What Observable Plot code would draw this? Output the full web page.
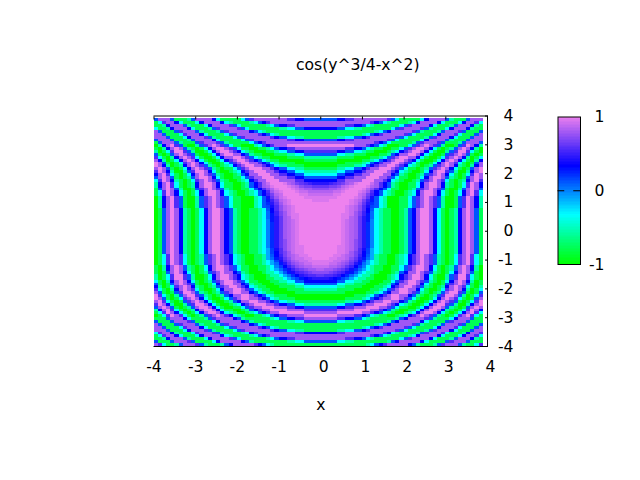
<!DOCTYPE html>
<html>
<head>
<meta charset="utf-8">
<script src="https://cdn.jsdelivr.net/npm/d3@7"></script>
<script src="https://cdn.jsdelivr.net/npm/@observablehq/plot@0.6"></script>
<style>
html,body{margin:0;padding:0;background:#fff}
#c{position:relative;width:640px;height:480px}
#c svg{position:absolute;left:0;top:0;background:transparent}
</style>
</head>
<body>
<div id="c"></div>
<script>
// Hand-worked samples of the surface, one string per row of cells (y ascending).
// Digits 0..9 stand for z from -1 to 1; letters a..s are a finer scale for the upper half,
// used in the smooth centre of the picture. Characters run outward from x = 0.05 to x = 3.95;
// the left half mirrors the right, as it does in the picture. The values were worked out by
// hand from the title's expression and the picture's bands, to about 1/24 of a cycle,
// with the fringe rows (|y| > 3) flattened a little as they look in the picture.
const rowY = [-3.95,-3.85,-3.75,-3.65,-3.55,-3.45,-3.35,-3.25,-3.15,-3.05,-2.95,-2.85,-2.75,-2.65,-2.55,-2.45,-2.35,-2.25,-2.15,-2.05,-1.95,-1.85,-1.75,-1.65,-1.55,-1.45,-1.35,-1.25,-1.15,-1.05,-0.95,-0.85,-0.75,-0.65,-0.55,-0.45,-0.35,-0.25,-0.15,-0.05,0.05,0.15,0.25,0.35,0.45,0.55,0.65,0.75,0.85,0.95,1.05,1.15,1.25,1.35,1.45,1.55,1.65,1.75,1.85,1.95,2.05,2.15,2.25,2.35,2.45,2.55,2.65,2.75,2.85,2.95,3.05,3.15,3.25,3.35,3.45,3.55,3.65,3.75,3.85];
const columnX = [0.05,0.15,0.25,0.35,0.45,0.55,0.65,0.75,0.85,0.95,1.05,1.15,1.25,1.35,1.45,1.55,1.65,1.75,1.85,1.95,2.05,2.15,2.25,2.35,2.45,2.55,2.65,2.75,2.85,2.95,3.05,3.15,3.25,3.35,3.45,3.55,3.65,3.75,3.85,3.95];
const rowDigits = [
"1111111111123567888886521112578885211378",
"5555332211111111256888886311115788851115",
"8888887766532111111357888863111258886211",
"8888888888887653211112368888631113688731",
"6666778888888887632111125788873111268873",
"1111223355678888887531111257888631115888",
"1111111111235678888875311113688873111588",
"1111111111111235688888752111258887511158",
"5555332211111111256888886311115788851115",
"8888776655321111112568888752111368885111",
"9999888877653211001236789875210137897310",
"8888999999887653210012368998631013689731",
"7777888899998876521001136899862101379862",
"5555667788899988753110013689985210158985",
"2222335566788999876321001368997520026897",
"1111112233567889988652100136898751013798",
"0000001111235678899875310013689873101589",
"0000000011123567899886521012579985201379",
"1111110000011235688998752101258997510158",
"2222111100001123578998863100137898620137",
"3333221111000112367899875210126898731026",
"5555332211100011256889986310015789851015",
"6666553322110001135789987521013689862013",
"iihgfdb432211000123678998631002579973102",
"lkkjigeb43221000123678998631002579973102",
"nnmlkjhfc4322100012568898752101368985101",
"poonmljheb432110011357899863101258986201",
"qqpponljgda32110011357899863101258986201",
"rrqqponlifb43211001236789875210137897310",
"rrrqqpomkhd43211001236789875210137897310",
"ssrrqqpnlifb4211001236789875210137897310",
"sssrrqpomjgc4211001236789875210137897310",
"ssssrrqomkgd4321100125689986310126898510",
"ssssrrqpnkhd4321100125689986310126898510",
"ssssrrqpnliea321100125689986310126898510",
"sssssrqpnliea321100125689986310126898510",
"sssssrqpnliea321100125689986310126898510",
"sssssrqpoliea321100125689986310126898510",
"sssssrqpoliea321100125689986310126898510",
"sssssrqpoliea321100125689986310126898510",
"sssssrqpoliea321100125689986310126898510",
"sssssrqpoliea321100125689986310126898510",
"sssssrqpoliea321100125689986310126898510",
"sssssrqpolifa321100125689986310126898510",
"sssssrrpolifb321100125689986310126898510",
"sssssrrqomjfb321100125689986310126898510",
"ssssssrqomjgb321100125689986310126898510",
"ssssssrqpnkgc321100125689986310126898510",
"ssssssrqpnkhd532000113578987520015798620",
"sssssssrqolie532000113578987520015798620",
"rrsssssrqpmjf532000113578987520015798620",
"rrrrssssrqolh532000113578987520015798620",
"qqqrrssssqpmj653210012368998631013689731",
"pppqqrsssrqok653210012368998631013689731",
"nnoopqrsssrpn765311001257898751002589851",
"llmmnpqrsssrp876521001136899862101379862",
"iijklmoprsssq876521001136899862101379862",
"6666778888999887632100125789873101268973",
"5555667788899988753110013689985210158985",
"3333556677889998865210012578986310137986",
"2222335566788999876321001368997520026897",
"1111223355678899987531101257898631015898",
"0000111122356788998763210125789862102689",
"0000001111235678899875310013689873101589",
"1111000000112356789987631001368986310268",
"2222111100001123578998863100137898620137",
"5555332211100011256889986310015789851015",
"7777665533211000123678998631002579973102",
"8888887766532110011357899863101258986201",
"9999999988876532000113578987520015798620",
"8888888888888765311111257888751112588851",
"5555667788888888753111113688885211158885",
"1111223355678888887531111257888631115888",
"1111111111235678888875311113688873111588",
"1111111111111235688888752111258887511158",
"6666553322111111135788887521113688862113",
"8888887766532111111357888863111258886211",
"8888888888887653211112368888631113688731",
"5555667788888888753111113688885211158885"
];
const titleText = "cos(y^3/4-x^2)";
const xLabel = "x";
const xTicks = [-4,-3,-2,-1,0,1,2,3,4];
const yTicks = [-4,-3,-2,-1,0,1,2,3,4];
const colorTicks = [-1,0,1];
const paletteStops = [-1,-1/3,1/3,1];
const paletteColors = ["#00ff00","#00ffff","#0000ff","#ee82ee"];
const font = "'DejaVu Sans', sans-serif";
const halfCell = 0.05, labelSize = 15.6;

// A digit is 0..9; a letter is a quarter step from a = 4.5 up to s = 9.
const charLevel = c => /\d/.test(c) ? +c : 4.5 + (c.charCodeAt(0) - 97) * 0.25;

const cells = rowDigits.flatMap((s, r) =>
  columnX.flatMap((x, c) => {
    const z = -1 + 2 * charLevel(s[c]) / 9;
    const xs = x < 3.9 ? [x, -x] : [-x];
    return xs.map(v => ({x: v, y: rowY[r], z}));
  })
);

const color = {type: "linear", domain: paletteStops, range: paletteColors, interpolate: "rgb"};

const main = Plot.plot({
  width: 640, height: 480,
  marginLeft: 153.5, marginRight: 153, marginTop: 115.5, marginBottom: 134,
  x: {domain: [-4, 4], axis: null},
  y: {domain: [-4, 4], axis: null},
  color,
  style: {background: "transparent", fontFamily: font},
  marks: [
    Plot.rect(cells, {
      x1: d => d.x - halfCell, x2: d => d.x + halfCell,
      y1: d => d.y - halfCell, y2: d => d.y + halfCell,
      fill: "z", shapeRendering: "crispEdges"
    }),
    Plot.ruleY([4, -4], {x1: -4, x2: 4, stroke: "#000", strokeWidth: 1}),
    Plot.ruleX([4], {y1: -4, y2: 4, stroke: "#000", strokeWidth: 1}),
    Plot.axisX(xTicks, {anchor: "top", tickSize: -3, text: null, tickPadding: 0, label: null, stroke: "#000"}),
    Plot.axisY(yTicks, {anchor: "right", tickSize: -3, text: null, tickPadding: 0, label: null, stroke: "#000"}),
    Plot.text(xTicks.filter(d => d < 0), {x: d => d, frameAnchor: "bottom", dy: 25, text: d => String(d), fontSize: labelSize, fill: "#000"}),
    Plot.text(xTicks.filter(d => d >= 0), {x: d => d, frameAnchor: "bottom", dy: 25, dx: 3, text: d => String(d), fontSize: labelSize, fill: "#000"}),
    Plot.text(yTicks, {y: d => d, frameAnchor: "right", dx: 26, textAnchor: "end", text: d => String(d), fontSize: labelSize, fill: "#000"}),
    Plot.text([titleText], {frameAnchor: "top", dy: -57, dx: 37, text: d => d, fontSize: labelSize, fill: "#000"}),
    Plot.text([xLabel], {frameAnchor: "bottom", dy: 63, text: d => d, fontSize: labelSize, fill: "#000"})
  ]
});

const rampStep = 0.02;
const ramp = d3.range(-1, 1, rampStep);
const bar = Plot.plot({
  width: 640, height: 480,
  marginLeft: 557.5, marginRight: 60, marginTop: 116.5, marginBottom: 216,
  x: {domain: [0, 1], axis: null},
  y: {domain: [-1, 1], axis: null},
  color,
  style: {background: "transparent", fontFamily: font},
  marks: [
    Plot.rect(ramp, {x1: 0, x2: 1, y1: d => d, y2: d => d + rampStep, fill: d => d + rampStep / 2, shapeRendering: "crispEdges"}),
    Plot.frame({stroke: "#000", strokeWidth: 1}),
    Plot.ruleY([0], {x1: 0, x2: 0.3, stroke: "#000"}),
    Plot.ruleY([0], {x1: 0.7, x2: 1, stroke: "#000"}),
    Plot.text(colorTicks, {y: d => d, frameAnchor: "right", dx: 24, textAnchor: "end", text: d => String(d), fontSize: labelSize, fill: "#000"})
  ]
});

document.getElementById("c").append(main, bar);
</script>
</body>
</html>
